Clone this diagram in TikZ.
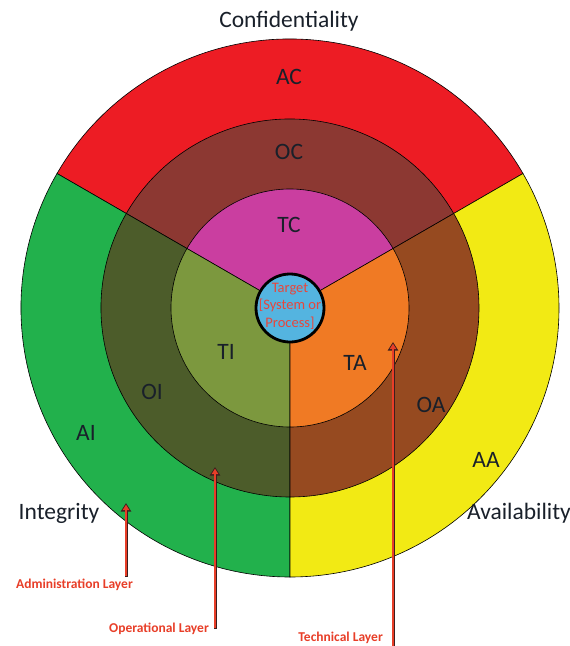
\documentclass[tikz,border=0pt]{standalone}
\usepackage{fontspec}
\setmainfont{Carlito}
\usetikzlibrary{arrows.meta}
\definecolor{cAC}{RGB}{237,28,36}
\definecolor{cAI}{RGB}{34,177,76}
\definecolor{cAA}{RGB}{242,234,20}
\definecolor{cOC}{RGB}{140,56,50}
\definecolor{cOI}{RGB}{76,92,42}
\definecolor{cOA}{RGB}{150,74,32}
\definecolor{cTC}{RGB}{202,62,160}
\definecolor{cTI}{RGB}{124,152,62}
\definecolor{cTA}{RGB}{240,122,36}
\definecolor{cTG}{RGB}{84,180,224}
\definecolor{labeltext}{RGB}{25,32,42}
\definecolor{arrred}{RGB}{232,62,40}
\definecolor{arrdark}{RGB}{60,30,30}
\definecolor{tgtext}{RGB}{232,70,60}
\begin{document}
\begin{tikzpicture}[x=1pt,y=-1pt,
  sec/.style={draw=black, line width=0.6pt},
  lbl/.style={font=\fontsize{23.5}{25}\selectfont, text=labeltext, inner sep=0pt},
  layer/.style={font=\bfseries\fontsize{13.5}{15}\selectfont, text=arrred, inner sep=0pt, anchor=east},
  shaftout/.style={line width=3pt, draw=arrdark, -{Triangle[width=10pt,length=8.5pt]}},
  shaftin/.style={line width=1.4pt, draw=arrred, -{Triangle[width=6.5pt,length=5.5pt]}}]
\useasboundingbox (0,0) rectangle (570,646);
\fill[white] (0,0) rectangle (570,646);
\coordinate (O) at (290,308);
% outer ring
\path[sec, fill=cAC] (O) -- ++(30:269pt) arc[start angle=30,end angle=150,radius=269pt] -- cycle;
\path[sec, fill=cAI] (O) -- ++(150:269pt) arc[start angle=150,end angle=270,radius=269pt] -- cycle;
\path[sec, fill=cAA] (O) -- ++(270:269pt) arc[start angle=270,end angle=390,radius=269pt] -- cycle;
% middle ring
\path[sec, fill=cOC] (O) -- ++(30:189pt) arc[start angle=30,end angle=150,radius=189pt] -- cycle;
\path[sec, fill=cOI] (O) -- ++(150:189pt) arc[start angle=150,end angle=270,radius=189pt] -- cycle;
\path[sec, fill=cOA] (O) -- ++(270:189pt) arc[start angle=270,end angle=390,radius=189pt] -- cycle;
% inner ring
\path[sec, fill=cTC] (O) -- ++(30:119pt) arc[start angle=30,end angle=150,radius=119pt] -- cycle;
\path[sec, fill=cTI] (O) -- ++(150:119pt) arc[start angle=150,end angle=270,radius=119pt] -- cycle;
\path[sec, fill=cTA] (O) -- ++(270:119pt) arc[start angle=270,end angle=390,radius=119pt] -- cycle;
% target
\draw[fill=cTG, draw=black, line width=2.8pt] (O) circle[radius=34pt];
\node[font=\fontsize{14.5}{17.5}\selectfont, text=tgtext, align=center, inner sep=0pt] (T) at ([yshift=2pt]O) {Target\\{[}System or\\Process{]}};
% labels
\node[lbl] (conf) at (289,21) {Confidentiality};
\node[lbl] (integ) at (59,513) {Integrity};
\node[lbl] (avail) at (519,513) {Availability};
\node[lbl] (AC) at (289,77) {AC};
\node[lbl] (OC) at (289,152) {OC};
\node[lbl] (TC) at (289,225) {TC};
\node[lbl] (TI) at (226,352) {TI};
\node[lbl] (OI) at (152,392) {OI};
\node[lbl] (AI) at (86,433) {AI};
\node[lbl] (TA) at (355,363) {TA};
\node[lbl] (OA) at (431,405) {OA};
\node[lbl] (AA) at (486,460) {AA};
% layer arrows
\coordinate (a1) at (126,577); \coordinate (a1t) at (126,503);
\coordinate (a2) at (215,629); \coordinate (a2t) at (215,467);
\coordinate (a3) at (393,650); \coordinate (a3t) at (393,342);
\draw[shaftout] (a1) -- (a1t);
\draw[shaftin] ([yshift=1pt]a1) -- ([yshift=-1.7pt]a1t);
\draw[shaftout] (a2) -- (a2t);
\draw[shaftin] ([yshift=1pt]a2) -- ([yshift=-1.7pt]a2t);
\draw[shaftout] (a3) -- (a3t);
\draw[shaftin] (a3) -- ([yshift=-1.7pt]a3t);
\node[layer] (L1) at (133,585) {Administration Layer};
\node[layer] (L2) at (209,629) {Operational Layer};
\node[layer] (L3) at (383,638) {Technical Layer};
\end{tikzpicture}
\end{document}
